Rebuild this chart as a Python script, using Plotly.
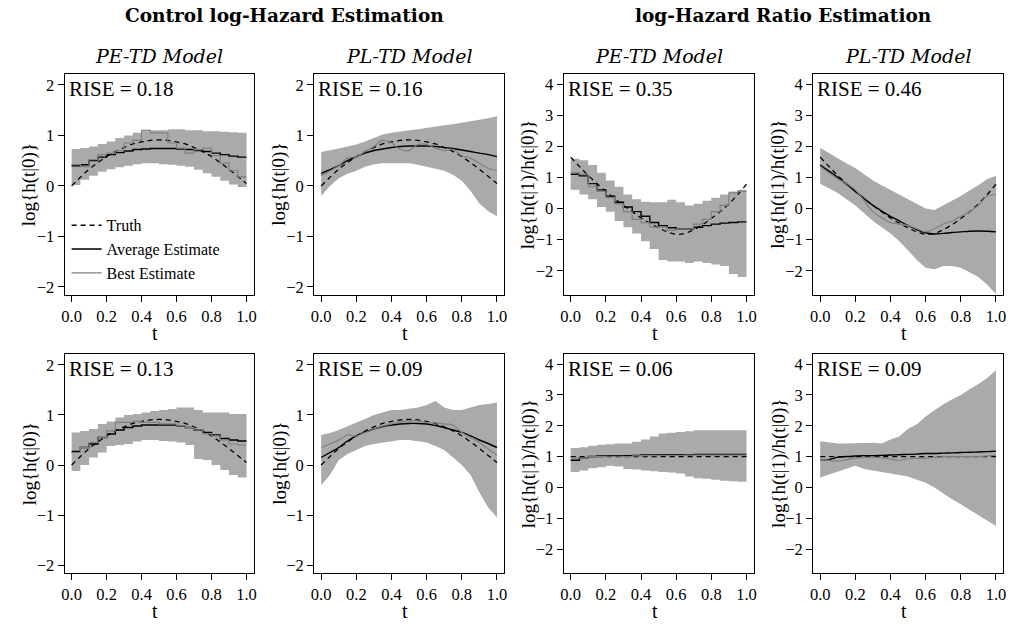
import plotly.graph_objects as go

# ---------------- data ----------------
t_grid = [round(0.05 * i, 2) for i in range(21)]          # grid of t values
x_ticks = [0.0, 0.2, 0.4, 0.6, 0.8, 1.0]
x_tick_text = ["0.0", "0.2", "0.4", "0.6", "0.8", "1.0"]
y_ticks_ctrl = [-2, -1, 0, 1, 2]
y_ticks_hr = [-2, -1, 0, 1, 2, 3, 4]

# truth curves (read at t_grid)
truth_ctrl = [0.0, 0.17, 0.33, 0.46, 0.58, 0.68, 0.76, 0.83, 0.87, 0.90, 0.91,
              0.90, 0.87, 0.83, 0.76, 0.68, 0.58, 0.46, 0.33, 0.19, 0.05]
truth_hr1 = [1.65, 1.35, 1.06, 0.80, 0.55, 0.32, 0.10, -0.10, -0.30, -0.47, -0.62,
             -0.75, -0.83, -0.80, -0.68, -0.52, -0.32, -0.10, 0.15, 0.45, 0.78]
truth_hr2 = [1.0] * 21

# ---- Panel A: control, PE-TD (step values per interval of width 0.05) ----
pA_up = [0.73, 0.75, 0.78, 0.83, 0.88, 0.95, 1.00, 1.05, 1.08, 1.10,
         1.10, 1.12, 1.12, 1.10, 1.10, 1.08, 1.08, 1.07, 1.06, 1.05]
pA_lo = [0.02, 0.12, 0.20, 0.28, 0.33, 0.37, 0.40, 0.43, 0.45, 0.45,
         0.43, 0.42, 0.40, 0.38, 0.32, 0.25, 0.18, 0.10, 0.03, -0.02]
pA_avg = [0.40, 0.42, 0.50, 0.57, 0.62, 0.66, 0.69, 0.72, 0.73, 0.74,
          0.74, 0.74, 0.73, 0.72, 0.70, 0.68, 0.65, 0.62, 0.59, 0.57]
pA_best = [0.42, 0.38, 0.52, 0.62, 0.65, 0.70, 0.85, 0.90, 1.10, 1.05,
           1.05, 0.85, 0.75, 0.65, 0.72, 0.75, 0.60, 0.45, 0.30, 0.18]

# ---- Panel B: control, PL-TD (values at t_grid) ----
pB_up = [0.67, 0.70, 0.74, 0.78, 0.82, 0.88, 0.95, 1.02, 1.05, 1.08, 1.10,
         1.12, 1.15, 1.17, 1.20, 1.22, 1.25, 1.28, 1.30, 1.34, 1.38]
pB_lo = [-0.20, 0.00, 0.15, 0.24, 0.30, 0.38, 0.43, 0.45, 0.45, 0.45, 0.45,
         0.42, 0.38, 0.35, 0.30, 0.22, 0.10, -0.10, -0.35, -0.50, -0.60]
pB_avg = [0.25, 0.32, 0.40, 0.50, 0.58, 0.65, 0.70, 0.73, 0.76, 0.78, 0.79,
          0.79, 0.79, 0.78, 0.76, 0.74, 0.71, 0.68, 0.65, 0.62, 0.58]
pB_best = [0.20, 0.30, 0.40, 0.55, 0.58, 0.68, 0.78, 0.90, 0.85, 0.72, 0.70,
           0.82, 0.82, 0.75, 0.70, 0.72, 0.60, 0.55, 0.45, 0.35, 0.30]

# ---- Panel C: log-HR, PE-TD (step) ----
pC_up = [1.60, 1.55, 1.40, 1.15, 0.90, 0.70, 0.45, 0.30, 0.22, 0.20,
         0.20, 0.28, 0.20, 0.10, 0.15, 0.25, 0.35, 0.45, 0.55, 0.60]
pC_lo = [0.60, 0.45, 0.30, 0.05, -0.10, -0.40, -0.60, -0.80, -1.05, -1.30,
         -1.65, -1.70, -1.70, -1.75, -1.70, -1.75, -1.80, -1.85, -2.10, -2.20]
pC_avg = [1.10, 1.05, 0.80, 0.60, 0.40, 0.20, 0.05, -0.10, -0.25, -0.45,
          -0.55, -0.62, -0.65, -0.65, -0.60, -0.55, -0.50, -0.47, -0.45, -0.43]
pC_best = [1.15, 1.10, 0.70, 0.55, 0.35, 0.15, -0.10, -0.35, -0.45, -0.60,
           -0.60, -0.70, -0.65, -0.65, -0.50, -0.35, -0.10, 0.10, 0.50, 0.55]

# ---- Panel D: log-HR, PL-TD ----
pD_up = [1.95, 1.78, 1.60, 1.45, 1.30, 1.10, 0.90, 0.75, 0.60, 0.45, 0.30,
         0.15, 0.00, -0.05, 0.10, 0.25, 0.40, 0.58, 0.75, 0.95, 1.05]
pD_lo = [0.80, 0.65, 0.50, 0.30, 0.10, -0.15, -0.40, -0.60, -0.80, -1.05, -1.35,
         -1.65, -1.90, -1.95, -1.85, -1.85, -1.90, -2.05, -2.20, -2.45, -2.75]
pD_avg = [1.40, 1.20, 1.00, 0.78, 0.55, 0.32, 0.10, -0.08, -0.25, -0.40, -0.55,
          -0.68, -0.78, -0.82, -0.80, -0.77, -0.75, -0.73, -0.72, -0.73, -0.75]
pD_best = [1.35, 1.15, 0.95, 0.80, 0.60, 0.25, -0.10, -0.30, -0.45, -0.50, -0.55,
           -0.65, -0.75, -0.65, -0.50, -0.40, -0.25, -0.10, 0.10, 0.40, 0.45]

# ---- Panel E: control, PE-TD (step) ----
pE_up = [0.65, 0.68, 0.72, 0.82, 0.87, 0.95, 1.00, 1.02, 1.05, 1.08,
         1.10, 1.12, 1.15, 1.15, 1.10, 1.05, 1.05, 1.05, 1.02, 1.02]
pE_lo = [-0.12, 0.00, 0.15, 0.25, 0.38, 0.40, 0.42, 0.47, 0.50, 0.50,
         0.48, 0.47, 0.45, 0.40, 0.12, 0.10, 0.00, -0.10, -0.20, -0.25]
pE_avg = [0.27, 0.35, 0.42, 0.55, 0.62, 0.70, 0.75, 0.78, 0.80, 0.80,
          0.80, 0.80, 0.78, 0.75, 0.70, 0.65, 0.60, 0.53, 0.50, 0.48]
pE_best = [0.25, 0.35, 0.45, 0.55, 0.68, 0.85, 0.85, 0.87, 0.85, 0.85,
           0.82, 0.82, 0.78, 0.75, 0.70, 0.62, 0.58, 0.50, 0.42, 0.40]

# ---- Panel F: control, PL-TD ----
pF_up = [0.60, 0.64, 0.70, 0.78, 0.85, 0.92, 1.00, 1.05, 1.10, 1.10, 1.12,
         1.15, 1.20, 1.28, 1.15, 1.10, 1.10, 1.15, 1.20, 1.22, 1.25]
pF_lo = [-0.40, -0.20, 0.10, 0.22, 0.30, 0.38, 0.42, 0.45, 0.48, 0.50, 0.50,
         0.48, 0.45, 0.38, 0.30, 0.15, 0.00, -0.20, -0.55, -0.85, -1.05]
pF_avg = [0.15, 0.25, 0.35, 0.48, 0.58, 0.66, 0.72, 0.77, 0.80, 0.82, 0.83,
          0.83, 0.82, 0.79, 0.75, 0.70, 0.65, 0.58, 0.50, 0.43, 0.35]
pF_best = [0.35, 0.42, 0.50, 0.60, 0.58, 0.65, 0.72, 0.78, 0.82, 0.86, 0.88,
           0.88, 0.85, 0.84, 0.82, 0.80, 0.65, 0.55, 0.45, 0.32, 0.20]

# ---- Panel G: log-HR, PE-TD (step) ----
pG_up = [1.28, 1.30, 1.35, 1.38, 1.40, 1.42, 1.42, 1.48, 1.55, 1.65,
         1.75, 1.77, 1.80, 1.82, 1.85, 1.85, 1.85, 1.85, 1.85, 1.85]
pG_lo = [0.50, 0.55, 0.62, 0.65, 0.70, 0.68, 0.60, 0.58, 0.55, 0.52,
         0.50, 0.48, 0.45, 0.35, 0.30, 0.28, 0.25, 0.22, 0.20, 0.18]
pG_avg = [0.88, 0.95, 1.00, 1.02, 1.03, 1.03, 1.03, 1.04, 1.05, 1.05,
          1.06, 1.06, 1.06, 1.06, 1.07, 1.07, 1.07, 1.07, 1.07, 1.07]
pG_best = [0.95, 0.95, 1.00, 1.00, 1.01, 1.01, 1.00, 1.02, 1.03, 1.03,
           1.04, 1.04, 1.04, 1.05, 1.05, 1.05, 1.05, 1.05, 1.05, 1.05]

# ---- Panel H: log-HR, PL-TD ----
pH_up = [1.50, 1.46, 1.42, 1.42, 1.42, 1.44, 1.45, 1.42, 1.55, 1.65, 1.90,
         2.05, 2.30, 2.50, 2.70, 2.85, 3.00, 3.18, 3.35, 3.55, 3.80]
pH_lo = [0.32, 0.42, 0.50, 0.60, 0.70, 0.60, 0.55, 0.50, 0.45, 0.40, 0.35,
         0.25, 0.15, 0.00, -0.20, -0.38, -0.55, -0.72, -0.90, -1.08, -1.25]
pH_avg = [0.90, 0.90, 0.98, 1.00, 1.02, 1.03, 1.03, 1.04, 1.05, 1.06, 1.07,
          1.08, 1.10, 1.10, 1.11, 1.12, 1.13, 1.14, 1.15, 1.16, 1.17]
pH_best = [0.92, 0.88, 0.85, 0.90, 0.95, 0.97, 0.98, 0.96, 0.92, 0.88, 0.93,
           0.94, 0.95, 0.97, 1.00, 1.00, 1.00, 1.00, 1.00, 1.02, 1.05]

rise_text = ["RISE = 0.18", "RISE = 0.16", "RISE = 0.35", "RISE = 0.46",
             "RISE = 0.13", "RISE = 0.09", "RISE = 0.06", "RISE = 0.09"]
sub_titles = ["PE-TD Model", "PL-TD Model", "PE-TD Model", "PL-TD Model"]
main_titles = ["Control log-Hazard Estimation", "log-Hazard Ratio Estimation"]
y_titles = ["log{h(t|0)}", "log{h(t|0)}", "log{h(t|1)/h(t|0)}", "log{h(t|1)/h(t|0)}"]
legend_names = ["Truth", "Average Estimate", "Best Estimate"]

# ---------------- layout geometry ----------------
W, H = 1011, 624
col_px = [(62, 252), (313, 504), (564, 755), (815, 1006)]
row_px = [(74, 296), (355, 575)]
YR_CTRL = [-2.16, 2.22]
YR_HR = [-2.78, 4.33]

BAND = "#aaaaaa"
GREY = "#808080"
SERIF = "Liberation Serif"

panels = [
    dict(kind="step", up=pA_up, lo=pA_lo, avg=pA_avg, best=pA_best, truth=truth_ctrl, hr=False),
    dict(kind="smooth", up=pB_up, lo=pB_lo, avg=pB_avg, best=pB_best, truth=truth_ctrl, hr=False),
    dict(kind="step", up=pC_up, lo=pC_lo, avg=pC_avg, best=pC_best, truth=truth_hr1, hr=True),
    dict(kind="smooth", up=pD_up, lo=pD_lo, avg=pD_avg, best=pD_best, truth=truth_hr1, hr=True),
    dict(kind="step", up=pE_up, lo=pE_lo, avg=pE_avg, best=pE_best, truth=truth_ctrl, hr=False),
    dict(kind="smooth", up=pF_up, lo=pF_lo, avg=pF_avg, best=pF_best, truth=truth_ctrl, hr=False),
    dict(kind="step", up=pG_up, lo=pG_lo, avg=pG_avg, best=pG_best, truth=truth_hr2, hr=True),
    dict(kind="smooth", up=pH_up, lo=pH_lo, avg=pH_avg, best=pH_best, truth=truth_hr2, hr=True),
]

fig = go.Figure()
annotations = []

for i, p in enumerate(panels):
    r, c = divmod(i, 4)
    n = i + 1
    xa = "x" if n == 1 else f"x{n}"
    ya = "y" if n == 1 else f"y{n}"
    if p["kind"] == "step":
        shape, band_shape = "hv", "hv"
        conv = lambda v: list(v) + [v[-1]]
    else:
        shape, band_shape = "spline", "linear"
        conv = lambda v: list(v)
    xs = t_grid
    # band
    fig.add_trace(go.Scatter(x=xs, y=conv(p["lo"]), mode="lines",
                             line=dict(width=0, color=BAND, shape=band_shape),
                             showlegend=False, hoverinfo="skip", xaxis=xa, yaxis=ya))
    fig.add_trace(go.Scatter(x=xs, y=conv(p["up"]), mode="lines",
                             line=dict(width=0, color=BAND, shape=band_shape),
                             fill="tonexty", fillcolor=BAND, showlegend=False,
                             hoverinfo="skip", xaxis=xa, yaxis=ya))
    # truth
    fig.add_trace(go.Scatter(x=xs, y=p["truth"], mode="lines", name=legend_names[0],
                             line=dict(color="black", width=1.3, dash="5px,4px", shape="spline"),
                             showlegend=(i == 0), xaxis=xa, yaxis=ya))
    # average
    fig.add_trace(go.Scatter(x=xs, y=conv(p["avg"]), mode="lines", name=legend_names[1],
                             line=dict(color="black", width=1.4, shape=shape),
                             showlegend=(i == 0), xaxis=xa, yaxis=ya))
    # best
    fig.add_trace(go.Scatter(x=xs, y=conv(p["best"]), mode="lines", name=legend_names[2],
                             line=dict(color=GREY, width=1.2, shape=shape),
                             showlegend=(i == 0), xaxis=xa, yaxis=ya))

    x0, x1 = col_px[c]
    y0, y1 = row_px[r]
    xdom = [x0 / W, x1 / W]
    ydom = [1 - y1 / H, 1 - y0 / H]
    ax_common = dict(showline=True, mirror=True, linecolor="black", linewidth=1,
                     ticks="outside", ticklen=6, tickwidth=1, tickcolor="black",
                     showgrid=False, zeroline=False,
                     tickfont=dict(family=SERIF, size=16.5, color="black"))
    sfx = "" if n == 1 else str(n)
    fig.layout[f"xaxis{sfx}"] = dict(domain=xdom, range=[-0.04, 1.04], anchor=ya,
                                     tickvals=x_ticks, ticktext=x_tick_text, **ax_common)
    fig.layout[f"yaxis{sfx}"] = dict(domain=ydom, range=YR_HR if p["hr"] else YR_CTRL, anchor=xa,
                                     tickvals=y_ticks_hr if p["hr"] else y_ticks_ctrl, **ax_common)

    # RISE label
    annotations.append(dict(text=rise_text[i], x=(x0 + 2) / W, y=1 - (y0 + 1) / H,
                            xref="paper", yref="paper", xanchor="left", yanchor="top",
                            showarrow=False, font=dict(family=SERIF, size=21, color="black")))
    # x title
    annotations.append(dict(text="t", x=((x0 + x1) / 2 - 4) / W, y=1 - (y1 + 38) / H,
                            xref="paper", yref="paper", xanchor="center", yanchor="middle",
                            showarrow=False, font=dict(family=SERIF, size=20, color="black")))
    # y title
    annotations.append(dict(text=y_titles[c], x=(x0 - 35) / W, y=1 - ((y0 + y1) / 2) / H,
                            xref="paper", yref="paper", xanchor="center", yanchor="middle",
                            textangle=-90, showarrow=False,
                            font=dict(family=SERIF, size=19, color="black")))

# column sub-titles
for c in range(4):
    x0, x1 = col_px[c]
    annotations.append(dict(text=f"<i>{sub_titles[c]}</i>", x=((x0 + x1) / 2) / W, y=1 - 56 / H,
                            xref="paper", yref="paper", xanchor="center", yanchor="middle",
                            showarrow=False, font=dict(family="DejaVu Serif", size=19, color="black")))
# main titles (centred over each pair of panels)
for k, (ca, cb) in enumerate([(0, 1), (2, 3)]):
    xc = (col_px[ca][0] + col_px[cb][1]) / 2
    annotations.append(dict(text=f"<b>{main_titles[k]}</b>", x=xc / W, y=1 - 16 / H,
                            xref="paper", yref="paper", xanchor="center", yanchor="middle",
                            showarrow=False, font=dict(family="DejaVu Serif", size=18.5, color="black")))

fig.update_layout(
    width=W, height=H, margin=dict(l=0, r=0, t=0, b=0),
    paper_bgcolor="white", plot_bgcolor="white",
    annotations=annotations,
    legend=dict(x=64 / W, y=1 - 209 / H, xanchor="left", yanchor="top",
                traceorder="normal",
                bgcolor="rgba(0,0,0,0)", font=dict(family=SERIF, size=16, color="black"),
                tracegroupgap=0, itemwidth=30),
)

fig.write_html("out.html", config={"displayModeBar": False},
               post_script="document.body.style.margin='0';")
